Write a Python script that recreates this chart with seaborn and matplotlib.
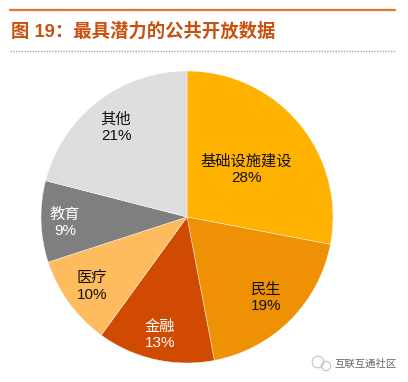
import matplotlib
matplotlib.use('Agg')
import matplotlib.pyplot as plt
import seaborn as sns

categories = ['基础设施建设', '民生', '金融', '医疗', '教育', '其他']
shares = [28, 19, 13, 10, 9, 21]
colors = ['#FFB200', '#EE9105', '#D04A02', '#FFBC5E', '#7F7F7F', '#DEDEDE']
text_colors = ['#111111', '#111111', 'white', '#111111', 'white', '#111111']

sns.set_theme(style='white')
plt.rcParams['font.family'] = ['Liberation Sans', 'Noto Sans CJK SC']

fig = plt.figure(figsize=(4.08, 3.82), dpi=100)
ax = fig.add_axes([0, 0, 1, 1])

# pixel coords, y flipped so that pie keeps its direction
wedges, _ = ax.pie(shares, colors=colors, startangle=90, counterclock=False,
                   center=(187, 382 - 217), radius=146,
                   wedgeprops={'edgecolor': 'white', 'linewidth': 0.3})
ax.set_xlim(0, 408)
ax.set_ylim(0, 382)
ax.set_aspect('auto')
ax.axis('off')

# label spots in pixels
spots = [(246, 170), (266, 298), (160, 335), (92, 287), (65, 223), (116, 128)]
for name, val, tc, (x, y) in zip(categories, shares, text_colors, spots):
    ax.text(x, 382 - y, f'{name}\n{val}%', ha='center', va='center',
            fontsize=11, color=tc, linespacing=1.2)

# header
ax.plot([10, 395], [382 - 9.5, 382 - 9.5], color='#E2772E', lw=1.6)
ax.plot([10, 395], [382 - 50.5, 382 - 50.5], color='#A8A8A8', lw=1, ls=(0, (1, 1)))
ax.text(11, 382 - 32, '图 19：最具潜力的公共开放数据', ha='left', va='center',
        fontsize=13.2, fontweight='bold', color='#C9500F')

# watermark
ax.text(366, 382 - 364, '互联互通社区', ha='center', va='center',
        fontsize=7.5, color='#666666')
ax.scatter([318, 326], [382 - 362, 382 - 366], s=[70, 45], facecolors='none',
           edgecolors='#BBBBBB', linewidths=0.7)

fig.savefig('out.png', dpi=100)
